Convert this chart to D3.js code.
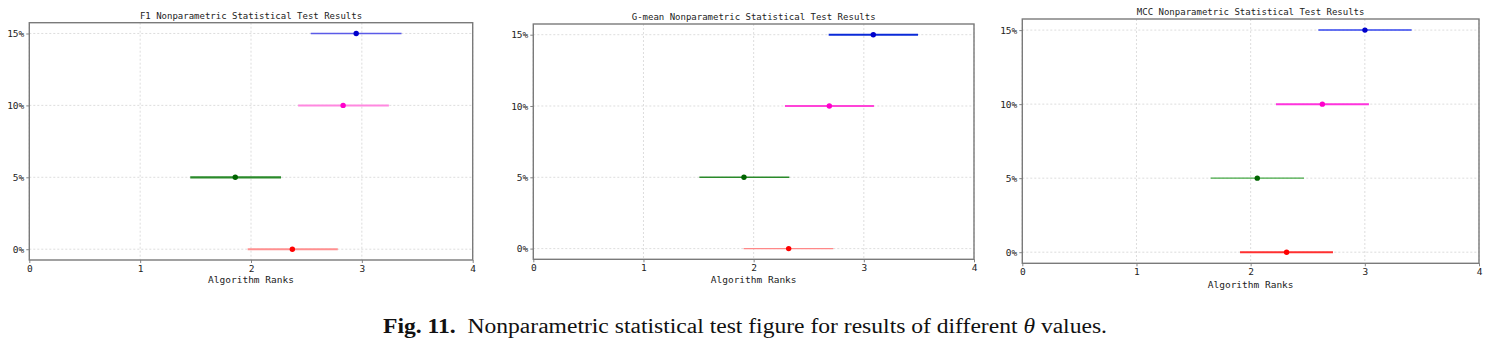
<!DOCTYPE html>
<html>
<head>
<meta charset="utf-8">
<script src="https://cdn.jsdelivr.net/npm/d3@7"></script>
<style>
  html, body { margin: 0; padding: 0; background: #fff; }
  svg { display: block; }
</style>
</head>
<body>
<svg id="chart" width="1489" height="347"></svg>
<script>
// ---- data ----
const thetaLevels = [0, 5, 10, 15];
const thetaLabels = ["0%", "5%", "10%", "15%"];
const xTicks = [0, 1, 2, 3, 4];
const titles = [
  "F1 Nonparametric Statistical Test Results",
  "G-mean Nonparametric Statistical Test Results",
  "MCC Nonparametric Statistical Test Results"
];
const xLabel = "Algorithm Ranks";
// mean ranks (dots) and critical-difference interval ends, per theta level
const f1Rank   = [2.373, 1.858, 2.831, 2.949];
const f1Low    = [1.970, 1.452, 2.425, 2.539];
const f1High   = [2.783, 2.271, 3.244, 3.358];
const gmRank   = [2.318, 1.912, 2.687, 3.086];
const gmLow    = [1.909, 1.507, 2.284, 2.681];
const gmHigh   = [2.723, 2.324, 3.092, 3.492];
const mccRank  = [2.315, 2.058, 2.628, 3.001];
const mccLow   = [1.907, 1.650, 2.222, 2.593];
const mccHigh  = [2.721, 2.467, 3.036, 3.410];
const dotColors = ["#ff0000", "#006400", "#ff00cc", "#0000cc"];

// ---- layout / styles ----
const panels = [
  { rank: f1Rank, low: f1Low, high: f1High, left: 29.3, right: 472.7, top: 22.7, bottom: 260, titleY: 18.5, tickY: 271.5, labelY: 283,
    lineColors: ["#ff9090", "#2a8a2a", "#ff88e0", "#5b5be8"], lineWidths: [2, 2.2, 2, 1.3] },
  { rank: gmRank, low: gmLow, high: gmHigh, left: 533.3, right: 974, top: 24, bottom: 259.3, titleY: 19.5, tickY: 271.5, labelY: 282.5,
    lineColors: ["#ff8888", "#2a8a2a", "#ff44d8", "#0a2ad8"], lineWidths: [1.4, 1.6, 2, 2] },
  { rank: mccRank, low: mccLow, high: mccHigh, left: 1022.3, right: 1479, top: 19, bottom: 263.3, titleY: 15, tickY: 275, labelY: 287.5,
    lineColors: ["#ff3030", "#44a844", "#ff33dd", "#3344ee"], lineWidths: [2, 1.4, 2, 1.5] }
];

const svg = d3.select("#chart");
const font = "'DejaVu Sans Mono', 'Liberation Mono', monospace";

panels.forEach((p, i) => {
  const x = d3.scaleLinear().domain([0, 4]).range([p.left, p.right]);
  const y = d3.scaleLinear().domain([-0.75, 15.75]).range([p.bottom, p.top]);
  const g = svg.append("g");

  // grid
  g.selectAll(".vg").data(xTicks).join("line")
    .attr("x1", d => x(d)).attr("x2", d => x(d))
    .attr("y1", p.top).attr("y2", p.bottom)
    .attr("stroke", "#d4d4d4").attr("stroke-width", 0.8).attr("stroke-dasharray", "2,2");
  g.selectAll(".hg").data(thetaLevels).join("line")
    .attr("x1", p.left).attr("x2", p.right)
    .attr("y1", d => y(d)).attr("y2", d => y(d))
    .attr("stroke", "#d4d4d4").attr("stroke-width", 0.8).attr("stroke-dasharray", "2,2");

  // axes
  const xAxis = d3.axisBottom(x).tickValues(xTicks).tickFormat(d3.format("d")).tickSize(3).tickPadding(2);
  const yAxis = d3.axisLeft(y).tickValues(thetaLevels).tickFormat((d, k) => thetaLabels[k]).tickSize(3).tickPadding(2);
  const gx = g.append("g").attr("transform", `translate(0,${p.bottom})`).call(xAxis);
  const gy = g.append("g").attr("transform", `translate(${p.left},0)`).call(yAxis);
  [gx, gy].forEach(a => {
    a.select(".domain").remove();
    a.selectAll(".tick line").attr("stroke", "#666").attr("stroke-width", 0.8);
    a.selectAll(".tick text").attr("font-family", font).attr("font-size", 9.5).attr("fill", "#222");
  });
  gx.selectAll(".tick text").attr("dy", null).attr("y", p.tickY - p.bottom);

  // frame
  g.append("rect").attr("x", p.left).attr("y", p.top)
    .attr("width", p.right - p.left).attr("height", p.bottom - p.top)
    .attr("fill", "none").attr("stroke", "#7a7a7a").attr("stroke-width", 1.4);

  // intervals
  g.selectAll(".ci").data(thetaLevels).join("line")
    .attr("x1", (d, k) => x(p.low[k])).attr("x2", (d, k) => x(p.high[k]))
    .attr("y1", d => y(d)).attr("y2", d => y(d))
    .attr("stroke", (d, k) => p.lineColors[k]).attr("stroke-width", (d, k) => p.lineWidths[k]);
  g.selectAll(".dot").data(thetaLevels).join("circle")
    .attr("cx", (d, k) => x(p.rank[k])).attr("cy", d => y(d)).attr("r", 2.7)
    .attr("fill", (d, k) => dotColors[k]);

  // title and label
  g.append("text").attr("x", (p.left + p.right) / 2).attr("y", p.titleY)
    .attr("text-anchor", "middle").attr("font-family", font).attr("font-size", 9)
    .attr("fill", "#222").text(titles[i]);
  g.append("text").attr("x", (p.left + p.right) / 2).attr("y", p.labelY)
    .attr("text-anchor", "middle").attr("font-family", font).attr("font-size", 9.5)
    .attr("fill", "#222").text(xLabel);
});

// caption
const cap = svg.append("text").attr("x", 383).attr("y", 333)
  .attr("font-family", "'Liberation Serif', 'DejaVu Serif', serif").attr("font-size", 20).attr("fill", "#111")
  .attr("textLength", 724).attr("lengthAdjust", "spacingAndGlyphs");
cap.append("tspan").attr("font-weight", "bold").text("Fig. 11.");
cap.append("tspan").text("\u00a0 Nonparametric statistical test figure for results of different ");
cap.append("tspan").attr("font-style", "italic").text("\u03b8");
cap.append("tspan").text(" values.");
</script>
</body>
</html>
